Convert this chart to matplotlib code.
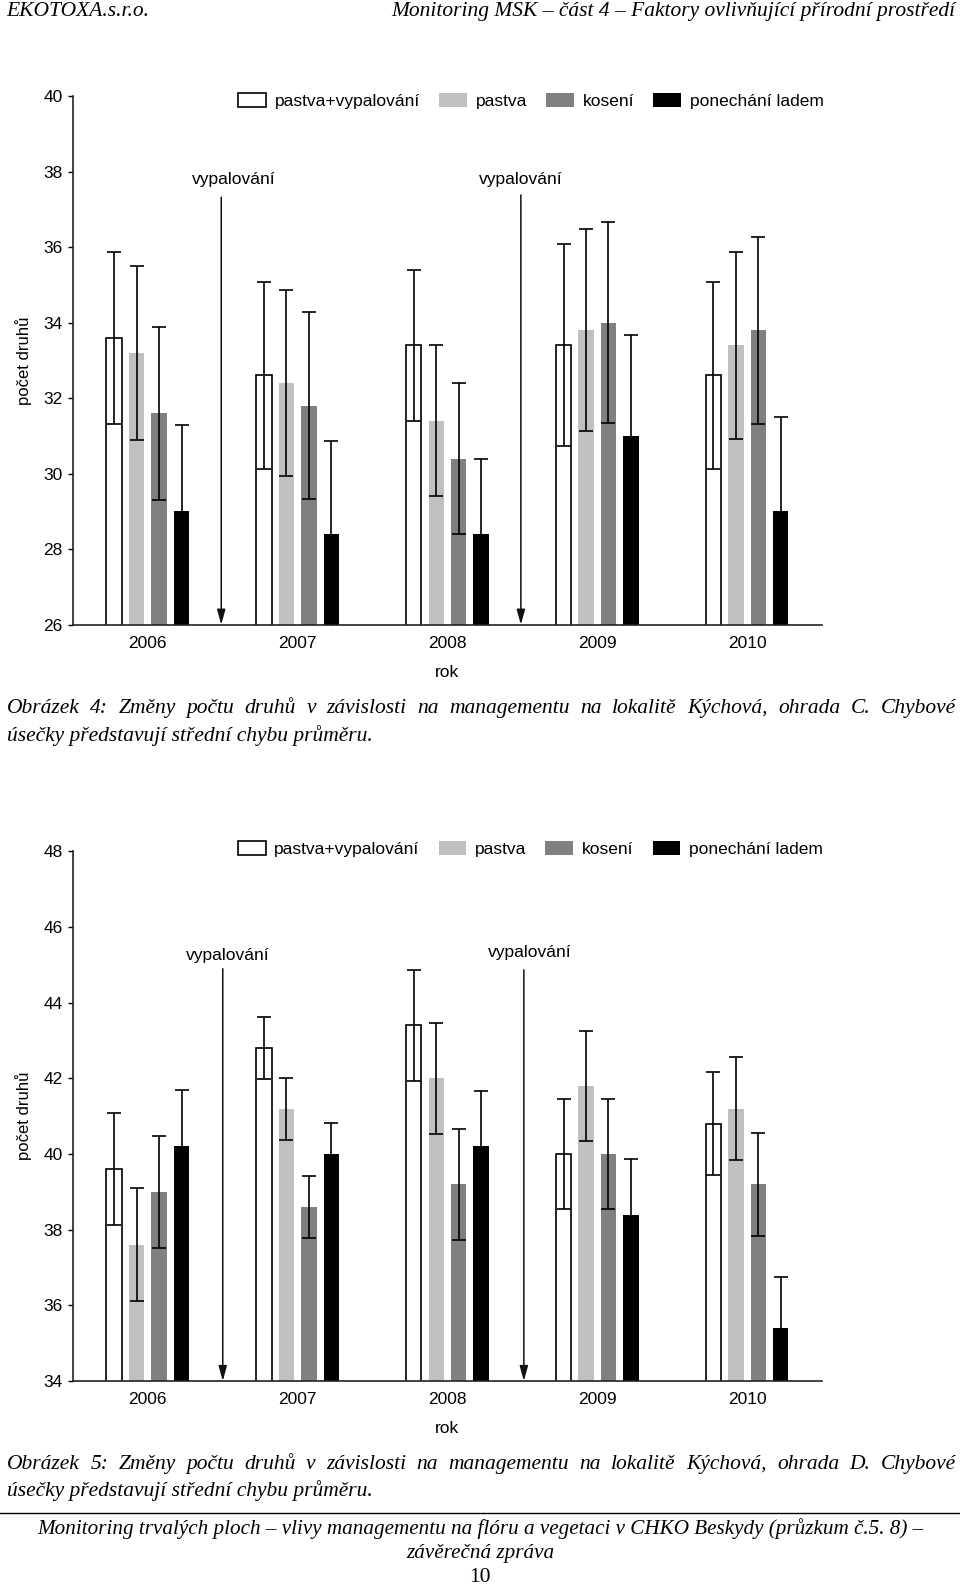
import matplotlib
matplotlib.use('Agg')
import matplotlib.pyplot as plt
import numpy as np

years = ['2006', '2007', '2008', '2009', '2010']
series = ['pastva+vypalování', 'pastva', 'kosení', 'ponechání ladem']

# Chart C (Obrázek 4)
c_pv = [33.6, 32.6, 33.4, 33.4, 32.6]
c_pastva = [33.2, 32.4, 31.4, 33.8, 33.4]
c_koseni = [31.6, 31.8, 30.4, 34.0, 33.8]
c_lad = [29.0, 28.4, 28.4, 31.0, 29.0]
c_pv_se = [2.28, 2.48, 2.0, 2.67, 2.47]
c_pastva_se = [2.30, 2.47, 2.0, 2.68, 2.48]
c_koseni_se = [2.29, 2.47, 2.0, 2.67, 2.48]
c_lad_se = [2.28, 2.46, 2.0, 2.67, 2.49]

# Chart D (Obrázek 5)
d_pv = [39.6, 42.8, 43.4, 40.0, 40.8]
d_pastva = [37.6, 41.2, 42.0, 41.8, 41.2]
d_koseni = [39.0, 38.6, 39.2, 40.0, 39.2]
d_lad = [40.2, 40.0, 40.2, 38.4, 35.4]
d_pv_se = [1.48, 0.82, 1.46, 1.45, 1.36]
d_pastva_se = [1.49, 0.82, 1.46, 1.46, 1.36]
d_koseni_se = [1.49, 0.82, 1.47, 1.45, 1.36]
d_lad_se = [1.49, 0.82, 1.47, 1.47, 1.36]

c_yticks = [26, 28, 30, 32, 34, 36, 38, 40]
d_yticks = [34, 36, 38, 40, 42, 44, 46, 48]

SANS = 'Liberation Sans'
SERIF = 'Liberation Serif'

colors = ['white', '#c0c0c0', '#808080', 'black']
edges = ['black', '#c0c0c0', '#808080', 'black']
offsets = [-0.225, -0.075, 0.075, 0.225]
width = 0.103

fig = plt.figure(figsize=(9.6, 15.85), dpi=100)


def draw_chart(rect, vals, ses, ylim, yticks, arrows, legend_anchor):
    ax = fig.add_axes(rect)
    x = np.arange(len(years))
    handles = []
    for i in range(4):
        b = ax.bar(x + offsets[i], vals[i], width=width, color=colors[i],
                   edgecolor=edges[i], linewidth=1.2 if i == 0 else 0.0,
                   label=series[i], zorder=2)
        handles.append(b)
        ax.errorbar(x + offsets[i], vals[i], yerr=ses[i], fmt='none',
                    ecolor='black', elinewidth=1.2, capsize=5.2,
                    capthick=1.2, zorder=3)
    ax.set_xlim(-0.5, 4.5)
    ax.set_ylim(*ylim)
    ax.set_yticks(yticks)
    ax.set_yticklabels([str(t) for t in yticks], fontsize=12.5, family=SANS)
    ax.set_xticks(x)
    ax.set_xticklabels(years, fontsize=12.5, family=SANS)
    ax.tick_params(axis='x', length=0, pad=8)
    ax.tick_params(axis='y', length=3.5, width=1, pad=4, direction='out')
    for s in ['top', 'right']:
        ax.spines[s].set_visible(False)
    for s in ['left', 'bottom']:
        ax.spines[s].set_linewidth(1.2)
        ax.spines[s].set_color('#222222')
    ax.set_ylabel('počet druhů', fontsize=12, family=SANS, labelpad=8)
    ax.set_xlabel('rok', fontsize=12.5, family=SANS, labelpad=10)
    for (ax_x, top, tx, ty) in arrows:
        ax.annotate('', xy=(ax_x, ylim[0]), xytext=(ax_x, top),
                    arrowprops=dict(arrowstyle='-|>,head_length=0.9,head_width=0.25',
                                    color='#111111', lw=1.1, shrinkA=0, shrinkB=0),
                    zorder=4)
        ax.text(tx, ty, 'vypalování', ha='center', va='center',
                fontsize=12.5, family=SANS)
    ax.legend(handles=handles, ncol=4, loc='center left',
              bbox_to_anchor=legend_anchor, frameon=False,
              prop={'family': SANS, 'size': 12.5},
              handlelength=1.6, handleheight=0.9, handletextpad=0.5,
              columnspacing=1.1, borderpad=0, borderaxespad=0)
    return ax


draw_chart([0.0760, 0.6059, 0.7802, 0.3335],
           [c_pv, c_pastva, c_koseni, c_lad],
           [c_pv_se, c_pastva_se, c_koseni_se, c_lad_se],
           (26, 40), c_yticks,
           [(0.49, 37.32, 0.573, 37.78), (2.49, 37.38, 2.49, 37.78)],
           (0.221, 0.991))

draw_chart([0.0760, 0.1287, 0.7802, 0.3341],
           [d_pv, d_pastva, d_koseni, d_lad],
           [d_pv_se, d_pastva_se, d_koseni_se, d_lad_se],
           (34, 48), d_yticks,
           [(0.5, 44.9, 0.53, 45.25), (2.51, 44.87, 2.55, 45.32)],
           (0.220, 1.005))

H = 1585.0
W = 960.0


def fy(py):
    return 1 - py / H


cap_kw = dict(family=SERIF, style='italic', fontsize=15.5, va='baseline')
renderer = fig.canvas.get_renderer()


def justified(text, x0, x1, py):
    words = text.split(' ')
    arts = [fig.text(0, fy(py), w, ha='left', **cap_kw) for w in words]
    widths = [a.get_window_extent(renderer).width for a in arts]
    gap = ((x1 - x0) - sum(widths)) / (len(words) - 1)
    x = x0
    for a, w in zip(arts, widths):
        a.set_x(x / W)
        x += w + gap


# baselines (px from top)
fig.text(0.006, fy(16), 'EKOTOXA.s.r.o.', ha='left', **cap_kw)
fig.text(0.995, fy(16), 'Monitoring MSK – část 4 – Faktory ovlivňující přírodní prostředí',
         ha='right', **cap_kw)

justified('Obrázek 4: Změny počtu druhů v závislosti na managementu na lokalitě Kýchová, ohrada C. Chybové',
          7, 956, 713)
fig.text(0.007, fy(741), 'úsečky představují střední chybu průměru.', ha='left', **cap_kw)

justified('Obrázek 5: Změny počtu druhů v závislosti na managementu na lokalitě Kýchová, ohrada D. Chybové',
          7, 956, 1469)
fig.text(0.007, fy(1496), 'úsečky představují střední chybu průměru.', ha='left', **cap_kw)

fig.add_artist(plt.Line2D([0.0, 1.0], [fy(1513), fy(1513)], color='black', lw=1.0))
foot_kw = dict(cap_kw)
foot_kw['fontsize'] = 15.2
fig.text(0.5, fy(1534), 'Monitoring trvalých ploch – vlivy managementu na flóru a vegetaci v CHKO Beskydy (průzkum č.5. 8) –',
         ha='center', **foot_kw)
fig.text(0.5, fy(1558), 'závěrečná zpráva', ha='center', **foot_kw)
fig.text(0.5, fy(1582), '10', ha='center', va='baseline', family=SERIF, fontsize=15.5)

fig.savefig('out.png', dpi=100, facecolor='white')
